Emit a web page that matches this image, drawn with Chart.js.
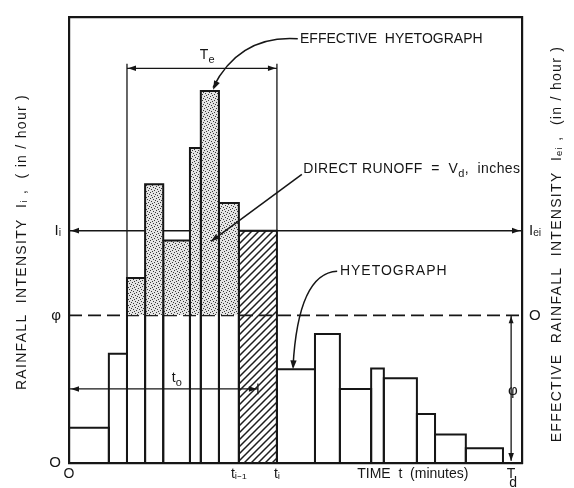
<!DOCTYPE html>
<html>
<head>
<meta charset="utf-8">
<script src="https://cdn.jsdelivr.net/npm/chart.js@4.4.1/dist/chart.umd.min.js"></script>
<style>
  html, body { margin: 0; padding: 0; background: #fff; }
  #wrap { width: 574px; height: 488px; }
</style>
</head>
<body>
<div id="wrap"><canvas id="chart"></canvas></div>
<script>
// time bins (schematic minutes) and the rainfall intensity of each bin
const binEdges = [0, 8.8, 12.8, 16.8, 20.8, 26.7, 29.1, 33.1, 37.5, 45.9, 54.3, 59.8, 66.7, 69.5, 76.8, 80.8, 87.6, 95.8];
const intensity = [0.79, 2.45, 4.15, 6.25, 4.99, 7.06, 8.34, 5.83, 5.21, 2.10, 2.89, 1.66, 2.12, 1.90, 1.10, 0.64, 0.33];

const phi = 3.31;        // loss rate
const Ii = 5.21;         // intensity of bin i
const hatchedBin = 8;    // bin t(i-1) .. t(i)
const teStart = 12.8;    // effective duration Te
const teEnd = 45.9;
const teLevel = 8.85;
const tO = 41.7;
const tOLevel = 1.66;
const Td = 97.6;
const xMax = 100;
const yMax = 10;

const xTickValues = [0, 37.5, 45.9, 75.9, 97.6];
const xTickLabels = ['O', 'tᵢ₋₁', 'tᵢ', 'TIME  t  (minutes)', ['T', ' d']];
const yTickValues = [0, phi, Ii];
const yTickLabels = ['O', 'φ', 'Iᵢ'];
const y2TickValues = [phi, Ii];
const y2TickLabels = ['O', 'Iₑᵢ'];

const ink = '#161616';
const family = '"Liberation Sans", Arial, sans-serif';

function makeStipple() {
  const s = 6;
  const c = document.createElement('canvas');
  c.width = s; c.height = s;
  const g = c.getContext('2d');
  g.fillStyle = '#e4e4e4';
  g.fillRect(0, 0, s, s);
  g.fillStyle = '#3a3a3a';
  [[0, 0], [3, 1], [1, 3], [4, 4], [5, 2], [2, 5]].forEach(d => g.fillRect(d[0], d[1], 1, 1));
  return g.createPattern(c, 'repeat');
}

function makeHatch() {
  const s = 7;
  const c = document.createElement('canvas');
  c.width = s; c.height = s;
  const g = c.getContext('2d');
  g.strokeStyle = '#1e1e1e';
  g.lineWidth = 1.5;
  g.beginPath();
  g.moveTo(0, s); g.lineTo(s, 0);
  g.moveTo(-1, 1); g.lineTo(1, -1);
  g.moveTo(s - 1, s + 1); g.lineTo(s + 1, s - 1);
  g.stroke();
  return g.createPattern(c, 'repeat');
}

const stipple = makeStipple();
const hatch = makeHatch();

const barSets = intensity.map((h, i) => {
  const x0 = binEdges[i], x1 = binEdges[i + 1];
  let fill = false;
  if (i === hatchedBin) {
    fill = { target: 'origin', above: hatch, below: 'rgba(0,0,0,0)' };
  } else if (x0 >= teStart && x1 <= teEnd && h > phi) {
    fill = { target: { value: phi }, above: stipple, below: 'rgba(0,0,0,0)' };
  }
  return {
    data: [{ x: x0, y: 0 }, { x: x0, y: h }, { x: x1, y: h }, { x: x1, y: 0 }],
    borderWidth: 2,
    fill: fill
  };
});

function lineSet(points, extra) {
  return Object.assign({ data: points, borderWidth: 1.5, fill: false }, extra || {});
}

const guideSets = [
  lineSet([{ x: 0, y: phi }, { x: xMax, y: phi }], { borderDash: [13, 6], borderWidth: 1.7 }),
  lineSet([{ x: 0, y: Ii }, { x: xMax, y: Ii }]),
  lineSet([{ x: teStart, y: intensity[2] }, { x: teStart, y: teLevel + 0.1 }], { borderWidth: 1.3 }),
  lineSet([{ x: teEnd, y: intensity[hatchedBin] }, { x: teEnd, y: teLevel + 0.1 }], { borderWidth: 1.3 }),
  lineSet([{ x: teStart, y: teLevel }, { x: teEnd, y: teLevel }], { borderWidth: 1.3 }),
  lineSet([{ x: 0, y: tOLevel }, { x: tO, y: tOLevel }], { borderWidth: 1.3 }),
  lineSet([{ x: tO, y: tOLevel - 0.12 }, { x: tO, y: tOLevel + 0.12 }], { borderWidth: 1.3 }),
  lineSet([{ x: Td, y: phi }, { x: Td, y: 0.05 }], { borderWidth: 1.3 })
];

function arrow(ctx, x, y, ang, size) {
  ctx.save();
  ctx.translate(x, y);
  ctx.rotate(ang);
  ctx.beginPath();
  ctx.moveTo(0, 0);
  ctx.lineTo(-size, -size * 0.35);
  ctx.lineTo(-size, size * 0.35);
  ctx.closePath();
  ctx.fill();
  ctx.restore();
}

// text with lowered small parts, e.g. [['T', 0], ['e', 1]]
function subText(ctx, parts, x, y, size, align) {
  const big = size + 'px ' + family, small = Math.round(size * 0.75) + 'px ' + family;
  let w = 0;
  parts.forEach(p => { ctx.font = p[1] ? small : big; w += ctx.measureText(p[0]).width; });
  let cx = align === 'center' ? x - w / 2 : x;
  ctx.textAlign = 'left';
  ctx.textBaseline = 'middle';
  parts.forEach(p => {
    ctx.font = p[1] ? small : big;
    ctx.fillText(p[0], cx, p[1] ? y + size * 0.35 : y);
    cx += ctx.measureText(p[0]).width;
  });
}

function verticalTitle(ctx, text, x, y) {
  ctx.save();
  ctx.translate(x, y);
  ctx.rotate(-Math.PI / 2);
  ctx.font = '14px ' + family;
  ctx.letterSpacing = '1.3px';
  ctx.textAlign = 'center';
  ctx.textBaseline = 'middle';
  ctx.fillText(text, 0, 0);
  ctx.restore();
}

const overlay = {
  id: 'overlay',
  afterDatasetsDraw(chart) {
    const { ctx } = chart;
    const sx = chart.scales.x, sy = chart.scales.y;
    const X = v => sx.getPixelForValue(v), Y = v => sy.getPixelForValue(v);
    ctx.save();
    ctx.fillStyle = ink;
    ctx.strokeStyle = ink;

    // arrow heads on the guide lines
    arrow(ctx, X(0) + 2, Y(Ii), Math.PI, 8);
    arrow(ctx, X(xMax) - 2, Y(Ii), 0, 8);
    arrow(ctx, X(teStart) + 1, Y(teLevel), Math.PI, 8);
    arrow(ctx, X(teEnd) - 1, Y(teLevel), 0, 8);
    arrow(ctx, X(0) + 2, Y(tOLevel), Math.PI, 8);
    arrow(ctx, X(tO) - 1, Y(tOLevel), 0, 8);
    arrow(ctx, X(Td), Y(0) - 2, Math.PI / 2, 8);
    arrow(ctx, X(Td), Y(phi) + 1, -Math.PI / 2, 7);

    // labels on the dimension lines
    subText(ctx, [['T', 0], ['e', 1]], X(30.5), Y(9.14), 14, 'center');
    subText(ctx, [['t', 0], ['o', 1]], X(23.8), Y(1.9), 14, 'center');
    ctx.font = '15px ' + family;
    ctx.textAlign = 'center';
    ctx.textBaseline = 'middle';
    ctx.fillText('φ', X(98.0), Y(1.61));

    // leader for EFFECTIVE HYETOGRAPH
    ctx.lineWidth = 1.5;
    ctx.beginPath();
    ctx.moveTo(X(50.5), Y(9.51));
    ctx.quadraticCurveTo(X(37.7), Y(9.6), X(31.8), Y(8.42));
    ctx.stroke();
    arrow(ctx, X(31.8), Y(8.37), Math.atan2(Y(8.37) - Y(9.6), X(31.8) - X(37.7)), 9);

    // leader for DIRECT RUNOFF
    ctx.beginPath();
    ctx.moveTo(X(51.4), Y(6.47));
    ctx.lineTo(X(31.35), Y(4.97));
    ctx.stroke();
    arrow(ctx, X(31.35), Y(4.97), Math.atan2(Y(4.97) - Y(6.47), X(31.35) - X(51.4)), 8);

    // leader for HYETOGRAPH
    ctx.beginPath();
    ctx.moveTo(X(59.2), Y(4.3));
    ctx.quadraticCurveTo(X(50.6), Y(4.26), X(49.45), Y(2.16));
    ctx.stroke();
    arrow(ctx, X(49.45), Y(2.1), Math.atan2(Y(2.1) - Y(4.26), X(49.45) - X(50.6)), 9);

    ctx.font = '14px ' + family;
    ctx.textAlign = 'left';
    ctx.textBaseline = 'middle';
    ctx.fillText('EFFECTIVE  HYETOGRAPH', X(51.0), Y(9.51));
    ctx.letterSpacing = '1px';
    ctx.fillText('HYETOGRAPH', X(59.8), Y(4.3));
    ctx.letterSpacing = '0.4px';
    subText(ctx, [['DIRECT RUNOFF  =  V', 0], ['d', 1], [',  inches', 0]], X(51.7), Y(6.58), 14, 'left');
    ctx.letterSpacing = '0px';

    // axis titles, both reading bottom to top
    const midY = (chart.chartArea.top + chart.chartArea.bottom) / 2;
    verticalTitle(ctx, 'RAINFALL  INTENSITY  Iᵢ ,  ( in / hour )', 22, midY + 2);
    verticalTitle(ctx, 'EFFECTIVE  RAINFALL  INTENSITY  Iₑᵢ ,  (in / hour )', chart.scales.yRight.left + 35, midY + 4);
    ctx.restore();
  }
};

new Chart(document.getElementById('chart'), {
  type: 'line',
  data: { datasets: barSets.concat(guideSets) },
  options: {
    responsive: true,
    maintainAspectRatio: false,
    animation: false,
    layout: { padding: 0 },
    elements: {
      point: { radius: 0, hoverRadius: 0 },
      line: { borderColor: ink, tension: 0 }
    },
    plugins: { legend: { display: false }, tooltip: { enabled: false } },
    scales: {
      x: {
        type: 'linear', position: 'bottom', min: 0, max: xMax,
        grid: { display: false, drawTicks: false },
        border: { color: ink, width: 2.2 },
        afterBuildTicks: s => { s.ticks = xTickValues.map(v => ({ value: v })); },
        afterFit: s => { s.height = 25; },
        ticks: {
          autoSkip: false, maxRotation: 0, padding: 7, color: ink,
          font: { family: family, size: 14, lineHeight: 0.62 },
          callback: (v, i) => xTickLabels[i]
        }
      },
      xTop: {
        type: 'linear', position: 'top', min: 0, max: xMax,
        grid: { display: false, drawTicks: false },
        border: { color: ink, width: 2.2 },
        ticks: { display: false },
        afterFit: s => { s.height = 10; }
      },
      y: {
        type: 'linear', position: 'left', min: 0, max: yMax,
        grid: { display: false, drawTicks: false },
        border: { color: ink, width: 2.2 },
        afterBuildTicks: s => { s.ticks = yTickValues.map(v => ({ value: v })); },
        afterFit: s => { s.width = 69; },
        ticks: {
          autoSkip: false, padding: 8, color: ink, font: { family: family, size: 15 },
          callback: (v, i) => yTickLabels[i]
        }
      },
      yRight: {
        type: 'linear', position: 'right', min: 0, max: yMax,
        grid: { display: false, drawTicks: false },
        border: { color: ink, width: 2.2 },
        afterBuildTicks: s => { s.ticks = y2TickValues.map(v => ({ value: v })); },
        afterFit: s => { s.width = 52; },
        ticks: {
          autoSkip: false, padding: 7, color: ink, font: { family: family, size: 15 },
          callback: (v, i) => y2TickLabels[i]
        }
      }
    }
  },
  plugins: [overlay]
});
</script>
</body>
</html>
